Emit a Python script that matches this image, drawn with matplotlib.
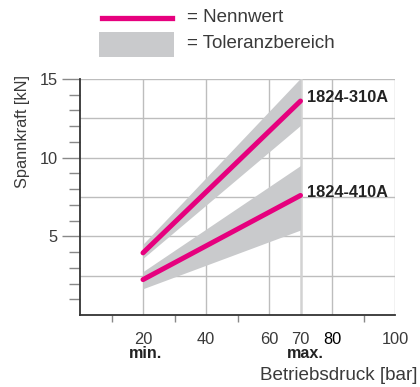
import matplotlib
matplotlib.use("Agg")
import matplotlib.pyplot as plt
from matplotlib.lines import Line2D
from matplotlib.patches import Rectangle

plt.rcParams['font.family'] = ['Liberation Sans', 'DejaVu Sans']

# Data
pressure = [20, 70]
series_names = ["1824-310A", "1824-410A"]
nominal = {"1824-310A": [3.95, 13.6], "1824-410A": [2.25, 7.6]}
tol_low = {"1824-310A": [3.6, 12.05], "1824-410A": [1.67, 5.4]}
tol_high = {"1824-310A": [4.5, 15.05], "1824-410A": [2.76, 9.5]}
x_ticks = [20, 40, 60, 70, 80, 100]
x_ticklabels = ["20", "40", "60", "70", "80", "100"]
x_minor = [10, 30, 50, 90]
y_ticks = [5, 10, 15]
y_minor = [1, 2, 3, 4, 6, 7, 8, 9, 11, 12, 13, 14]
y_grid = [2.5, 5, 7.5, 10, 12.5, 15]
x_grid = [20, 40, 60, 80, 100]

PINK = "#E6007E"
BAND = "#C9CACC"
GRID = "#BDBDBD"
TXT = "#3A3A3A"

W, H = 420, 387
fig = plt.figure(figsize=(W / 100, H / 100), dpi=100)
ax = fig.add_axes([80 / W, 1 - 315 / H, 315 / W, 236 / H])
ax.set_xlim(0, 100)
ax.set_ylim(0, 15)

for yv in y_grid:
    ax.axhline(yv, color=GRID, lw=1.0, zorder=1)
for xv in x_grid:
    ax.axvline(xv, color=GRID, lw=1.0, zorder=1)
ax.axvline(70, color="#D2D2D2", lw=1.8, zorder=1)

for name in series_names:
    ax.fill_between(pressure, tol_low[name], tol_high[name], color=BAND, lw=0, zorder=2)
    ax.plot(pressure, nominal[name], color=PINK, lw=3.6, solid_capstyle='round', zorder=3)
    ax.text(pressure[-1] + 2.2, nominal[name][-1] + 0.2, name, fontsize=11.8,
            fontweight='bold', color="#222222", va='center', ha='left', zorder=4)

for s in ['top', 'right']:
    ax.spines[s].set_visible(False)
for s in ['left', 'bottom']:
    ax.spines[s].set_color("#333333")
    ax.spines[s].set_linewidth(1.3)

ax.set_xticks(x_ticks)
ax.set_xticklabels(x_ticklabels)
ax.set_xticks(x_minor, minor=True)
ax.tick_params(axis='x', which='major', length=0, pad=12, labelsize=11.8, labelcolor=TXT)
ax.tick_params(axis='x', which='minor', length=5, width=1, color="#888888", direction='out')
for lbl in ax.get_xticklabels():
    if lbl.get_text() == "80":
        lbl.set_color("#000000")

ax.set_yticks(y_ticks)
ax.set_yticks(y_minor, minor=True)
ax.tick_params(axis='y', which='major', length=13, width=1, color="#888888", pad=3,
               labelsize=11.8, labelcolor=TXT)
ax.tick_params(axis='y', which='minor', length=8, width=1, color="#888888")

# min./max. labels
fig.text(145 / W, 1 - 354 / H, "min.", fontsize=11.6, fontweight='bold', color="#222222",
         ha='center', va='center')
fig.text(305 / W, 1 - 354 / H, "max.", fontsize=11.6, fontweight='bold', color="#222222",
         ha='center', va='center')

fig.text(23 / W, 1 - 131 / H, "Spannkraft [kN]", rotation=90, fontsize=11.8, color=TXT,
         ha='center', va='center')
fig.text(418 / W, 1 - 375 / H, "Betriebsdruck [bar]", fontsize=13.6, color=TXT,
         ha='right', va='center')

# legend
fig.add_artist(Line2D([102 / W, 172 / W], [1 - 18 / H, 1 - 18 / H], color=PINK, lw=3.8,
                      transform=fig.transFigure))
fig.add_artist(Rectangle((99 / W, 1 - 57 / H), 75 / W, 25 / H, color=BAND, lw=0,
                         transform=fig.transFigure))
fig.text(187 / W, 1 - 17 / H, "= Nennwert", fontsize=13.5, color=TXT, ha='left', va='center')
fig.text(187 / W, 1 - 44 / H, "= Toleranzbereich", fontsize=13.5, color=TXT, ha='left', va='center')

fig.savefig("out.png", dpi=100)
